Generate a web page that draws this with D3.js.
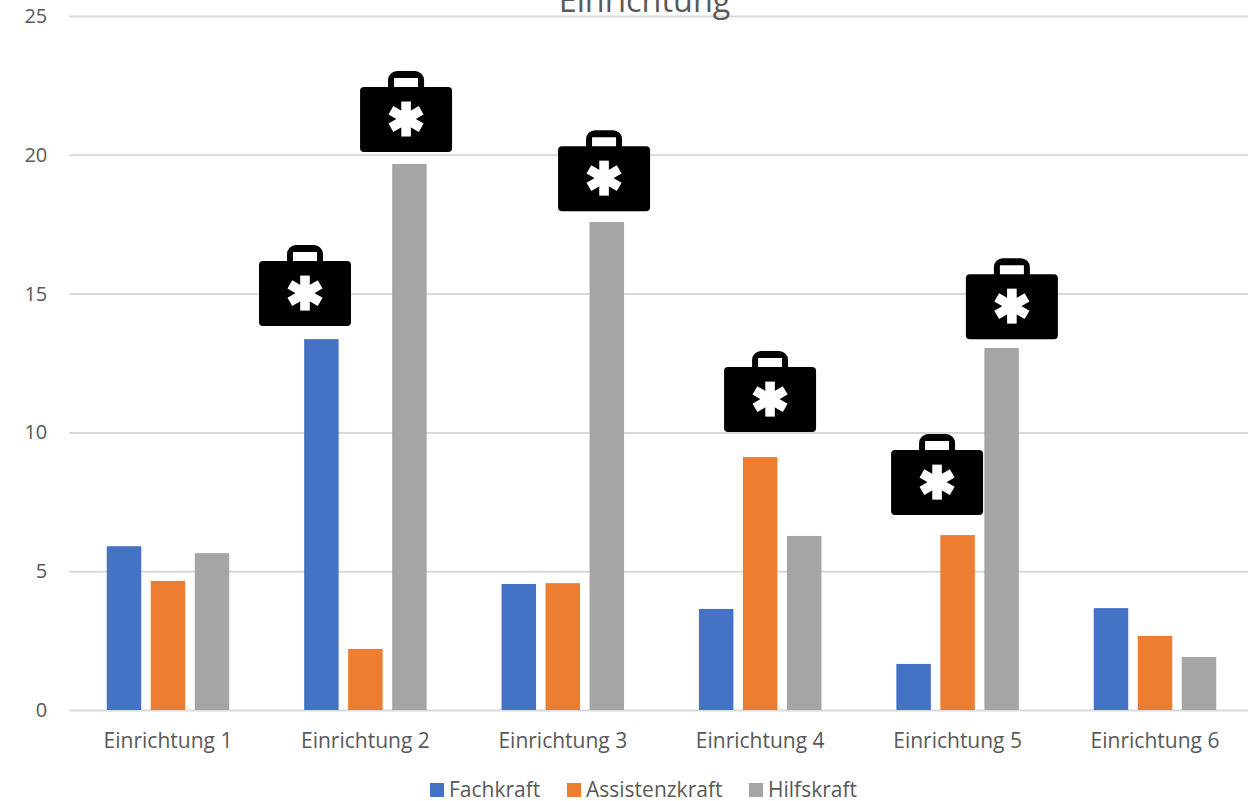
<!DOCTYPE html>
<html lang="de">
<head>
<meta charset="utf-8">
<script src="https://d3js.org/d3.v7.min.js"></script>
<style>
  html, body { margin: 0; padding: 0; background: #fff; overflow: hidden; }
  svg { display: block; }
  text { font-family: "Open Sans", sans-serif; fill: #595959; }
</style>
</head>
<body>
<svg id="chart" width="1248" height="801"></svg>
<script>
const chartTitle = "Einrichtung";
const categories = ["Einrichtung 1", "Einrichtung 2", "Einrichtung 3", "Einrichtung 4", "Einrichtung 5", "Einrichtung 6"];
const seriesNames = ["Fachkraft", "Assistenzkraft", "Hilfskraft"];
const seriesColors = ["#4472C4", "#ED7D31", "#A5A5A5"];
const fachkraft = [5.9, 13.36, 4.54, 3.64, 1.66, 3.67];
const assistenzkraft = [4.65, 2.2, 4.57, 9.11, 6.3, 2.67];
const hilfskraft = [5.65, 19.67, 17.58, 6.27, 13.04, 1.91];
const yTicks = [0, 5, 10, 15, 20, 25];

// Case markers: position along the category axis (in groups) and value of the case's lower edge
const markerGroup = [1.194, 1.706, 2.709, 3.55, 4.396, 4.775];
const markerValue = [13.83, 20.1, 17.97, 10.01, 7.02, 13.36];

const seriesValues = [fachkraft, assistenzkraft, hilfskraft];
const svg = d3.select("#chart");

const plotLeft = 69.3, plotRight = 1253.7, plotTop = 16, plotBottom = 710;

const x = d3.scaleBand().domain(categories).range([plotLeft, plotRight]);
const xInner = d3.scaleBand().domain(seriesNames)
  .range([-61.25, 61.25]).paddingInner(0.216).paddingOuter(0);
const y = d3.scaleLinear().domain([0, 25]).range([plotBottom, plotTop]);
const xMarker = d3.scaleLinear().domain([0, categories.length]).range([plotLeft, plotRight]);

// Horizontal gridlines and value labels
const yAxis = svg.append("g")
  .attr("transform", `translate(${plotLeft},0)`)
  .call(d3.axisLeft(y).tickValues(yTicks).tickSize(-(plotRight - plotLeft)).tickPadding(22));
yAxis.select(".domain").remove();
yAxis.selectAll("line").attr("stroke", "#d9d9d9").attr("stroke-width", 2);
yAxis.selectAll("text").style("font-size", "20px").attr("fill", "#595959");

// Category labels
const xAxis = svg.append("g")
  .attr("transform", `translate(0,${plotBottom})`)
  .call(d3.axisBottom(x).tickSize(0).tickPadding(23));
xAxis.select(".domain").remove();
xAxis.selectAll("text").style("font-size", "21px").attr("fill", "#595959");

// Grouped bars
seriesNames.forEach((name, s) => {
  svg.append("g").selectAll("rect")
    .data(seriesValues[s])
    .join("rect")
    .attr("x", (d, i) => x(categories[i]) + x.bandwidth() / 2 + xInner(name))
    .attr("width", xInner.bandwidth())
    .attr("y", d => y(d))
    .attr("height", d => plotBottom - y(d))
    .attr("fill", seriesColors[s]);
});

// Medical case symbol, origin at the centre of its lower edge
function drawCase(g) {
  g.append("rect").attr("x", -46).attr("y", -65).attr("width", 92).attr("height", 65)
    .attr("rx", 4).attr("fill", "#000");
  g.append("path")
    .attr("d", "M-18,-63V-72a9,9 0 0 1 9,-9H9a9,9 0 0 1 9,9V-63H12V-74H-12V-63Z")
    .attr("fill", "#000");
  const star = g.append("g").attr("transform", "translate(0,-33)");
  [0, 60, 120].forEach(a => {
    star.append("rect").attr("x", -4.8).attr("y", -17.5).attr("width", 9.6).attr("height", 35)
      .attr("fill", "#fff").attr("transform", `rotate(${a})`);
  });
}
markerGroup.forEach((m, i) => {
  svg.append("g")
    .attr("transform", `translate(${xMarker(m)},${y(markerValue[i])})`)
    .call(drawCase);
});

// Title, running off the top edge of the page
svg.append("text")
  .attr("x", 644.5).attr("y", 12)
  .attr("text-anchor", "middle")
  .style("font-size", "32.4px")
  .text(chartTitle);

// Legend
const legendSwatchX = [430, 567, 749];
const legend = svg.append("g");
seriesNames.forEach((name, s) => {
  legend.append("rect")
    .attr("x", legendSwatchX[s]).attr("y", 783).attr("width", 14).attr("height", 14)
    .attr("fill", seriesColors[s]);
  legend.append("text")
    .attr("x", legendSwatchX[s] + 19).attr("y", 790).attr("dy", "0.35em")
    .style("font-size", "21px")
    .text(name);
});
</script>
</body>
</html>
